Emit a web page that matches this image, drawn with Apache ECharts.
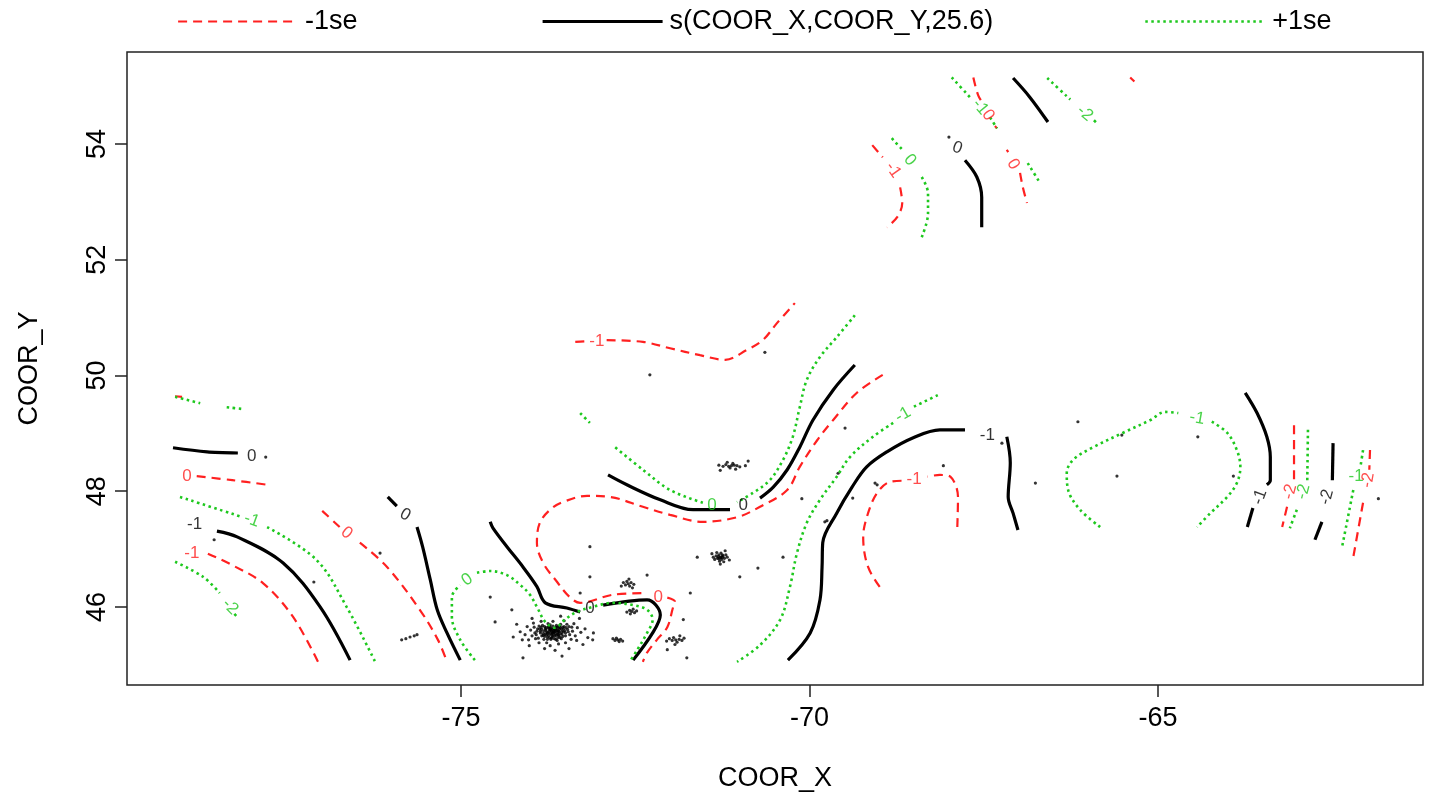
<!DOCTYPE html>
<html>
<head>
<meta charset="utf-8">
<script src="https://cdn.jsdelivr.net/npm/echarts@6/dist/echarts.min.js"></script>
<style>
  html, body { margin: 0; padding: 0; background: #ffffff; }
  #chart { width: 1431px; height: 804px; }
</style>
</head>
<body>
<div id="chart"></div>
<script>
// Axis ranges and tick labels (longitude / latitude)
const xRange = [-79.79, -61.20];
const yRange = [44.65, 55.59];
const xTicks = [-75, -70, -65];
const yTicks = [46, 48, 50, 52, 54];

// Legend entries
const seLowName = '-1se';
const fitName = 's(COOR_X,COOR_Y,25.6)';
const seHighName = '+1se';

// Contour paths of the fit minus one standard error (each an open polyline)
const seLowPaths = [
  [[-79.10, 49.64], [-79.00, 49.63]],
  [[-78.79, 48.26], [-78.28, 48.19], [-77.77, 48.11]],
  [[-78.63, 46.92], [-78.31, 46.74], [-77.84, 46.41], [-77.41, 45.83], [-77.05, 45.05]],
  [[-76.99, 47.66], [-76.74, 47.38]],
  [[-76.45, 47.11], [-76.06, 46.69], [-75.59, 45.95], [-75.33, 45.43], [-75.20, 45.05]],
  [[-68.95, 50.01], [-69.32, 49.70], [-69.66, 49.23], [-69.89, 48.88], [-70.14, 48.42], [-70.32, 48.02],
   [-70.71, 47.73], [-71.04, 47.55], [-71.53, 47.47], [-72.00, 47.59], [-72.39, 47.73], [-72.86, 47.90],
   [-73.19, 47.92], [-73.54, 47.81], [-73.72, 47.68], [-73.87, 47.45], [-73.91, 47.11], [-73.82, 46.76],
   [-73.62, 46.43], [-73.44, 46.17], [-73.29, 46.07], [-72.82, 46.21], [-72.33, 46.24]],
  [[-72.04, 46.16], [-71.93, 46.09], [-71.96, 45.98], [-72.04, 45.65], [-72.19, 45.43], [-72.33, 45.21], [-72.39, 45.05]],
  [[-73.36, 50.58], [-73.22, 50.59]],
  [[-72.91, 50.61], [-72.39, 50.58], [-72.00, 50.47], [-71.57, 50.35], [-71.21, 50.27], [-70.90, 50.44],
   [-70.67, 50.61], [-70.47, 50.90], [-70.21, 51.25]],
  [[-67.88, 47.38], [-67.87, 47.90], [-67.98, 48.25], [-68.13, 48.28], [-68.31, 48.25]],
  [[-68.68, 48.18], [-68.85, 48.16], [-69.03, 47.97], [-69.16, 47.62], [-69.23, 47.21], [-69.16, 46.69], [-68.96, 46.29]],
  [[-63.05, 49.14], [-63.05, 48.19]],
  [[-63.15, 47.73], [-63.22, 47.38]],
  [[-61.96, 48.71], [-61.97, 48.37]],
  [[-62.06, 47.80], [-62.20, 46.86]],
  [[-67.65, 55.15], [-67.58, 54.84], [-67.51, 54.70]],
  [[-67.34, 54.31], [-67.31, 54.27]],
  [[-65.40, 55.15], [-65.34, 55.08]],
  [[-69.10, 53.98], [-68.95, 53.77]],
  [[-68.70, 53.25], [-68.67, 52.98], [-68.74, 52.74], [-68.89, 52.56]],
  [[-67.17, 53.90], [-67.15, 53.86]],
  [[-66.98, 53.50], [-66.94, 53.25], [-66.88, 52.98]]
];

// Contour paths of the smooth fit itself
const fitPaths = [
  [[-79.13, 48.75], [-78.64, 48.68], [-78.20, 48.66]],
  [[-78.50, 47.31], [-78.21, 47.21], [-77.55, 46.76], [-77.02, 46.00], [-76.59, 45.08]],
  [[-76.05, 47.90], [-75.92, 47.74]],
  [[-75.63, 47.38], [-75.55, 47.04], [-75.44, 46.47], [-75.34, 45.95], [-75.20, 45.55], [-75.01, 45.08]],
  [[-74.58, 47.47], [-74.54, 47.36], [-74.34, 47.04], [-74.11, 46.69], [-73.91, 46.35], [-73.79, 46.07],
   [-73.48, 45.98], [-73.29, 45.91]],
  [[-72.96, 46.03], [-72.33, 46.12], [-72.14, 45.86], [-72.25, 45.55], [-72.53, 45.08]],
  [[-69.35, 50.18], [-69.66, 49.75], [-69.95, 49.23], [-70.14, 48.76], [-70.32, 48.37], [-70.52, 48.07], [-70.71, 47.88]],
  [[-71.14, 47.68], [-71.67, 47.68], [-72.14, 47.85], [-72.62, 48.11], [-72.89, 48.28]],
  [[-67.77, 49.06], [-68.13, 49.06], [-68.52, 48.92], [-68.89, 48.68], [-69.18, 48.42], [-69.39, 48.07],
   [-69.61, 47.62], [-69.81, 47.11], [-69.82, 46.69], [-69.85, 46.12], [-69.99, 45.55], [-70.31, 45.08]],
  [[-67.17, 48.94], [-67.12, 48.49], [-67.15, 47.90], [-67.08, 47.62], [-67.01, 47.33]],
  [[-63.75, 49.70], [-63.58, 49.35], [-63.44, 48.94], [-63.39, 48.59], [-63.39, 48.19], [-63.44, 48.11]],
  [[-63.64, 47.71], [-63.72, 47.38]],
  [[-62.49, 48.83], [-62.50, 48.19]],
  [[-62.65, 47.47], [-62.75, 47.16]],
  [[-67.08, 55.14], [-66.84, 54.81], [-66.58, 54.38]],
  [[-67.77, 53.72], [-67.60, 53.43], [-67.53, 53.08], [-67.53, 52.56]]
];

// Contour paths of the fit plus one standard error
const seHighPaths = [
  [[-79.10, 49.63], [-78.74, 49.52]],
  [[-78.36, 49.45], [-78.13, 49.42]],
  [[-79.03, 47.90], [-78.13, 47.55]],
  [[-77.78, 47.38], [-77.07, 46.81], [-76.64, 46.00], [-76.23, 45.05]],
  [[-79.10, 46.78], [-78.70, 46.52], [-78.46, 46.24]],
  [[-78.25, 45.88], [-78.21, 45.83]],
  [[-74.80, 45.08], [-75.01, 45.43], [-75.13, 45.83], [-75.13, 46.17], [-75.01, 46.38]],
  [[-74.77, 46.59], [-74.58, 46.62], [-74.34, 46.55], [-74.15, 46.38], [-74.01, 46.21], [-73.91, 46.00],
   [-73.79, 45.74], [-73.65, 45.64], [-73.51, 45.78], [-73.36, 45.90], [-73.11, 46.00], [-72.82, 46.07],
   [-72.53, 46.03], [-72.33, 45.95], [-72.25, 45.78], [-72.33, 45.55], [-72.47, 45.26], [-72.58, 45.05]],
  [[-69.35, 51.04], [-69.61, 50.66], [-69.85, 50.32], [-70.04, 49.92], [-70.14, 49.45], [-70.24, 48.94],
   [-70.38, 48.54], [-70.57, 48.19], [-70.81, 47.97], [-71.04, 47.81]],
  [[-71.53, 47.80], [-72.00, 48.02], [-72.39, 48.37], [-72.79, 48.76]],
  [[-73.29, 49.35], [-73.15, 49.18]],
  [[-68.16, 49.66], [-68.52, 49.45]],
  [[-68.80, 49.18], [-69.09, 48.94], [-69.42, 48.59], [-69.61, 48.25], [-69.85, 47.85], [-70.04, 47.45],
   [-70.18, 46.93], [-70.28, 46.35], [-70.42, 45.78], [-70.71, 45.34], [-71.04, 45.05]],
  [[-65.83, 47.38], [-66.12, 47.68], [-66.29, 48.02], [-66.31, 48.31], [-66.22, 48.54], [-65.93, 48.76],
   [-65.50, 49.01], [-65.11, 49.23], [-64.90, 49.37], [-64.71, 49.35]],
  [[-64.23, 49.20], [-64.01, 49.01], [-63.87, 48.71], [-63.82, 48.42], [-63.87, 48.14], [-64.01, 47.90],
   [-64.25, 47.62], [-64.44, 47.38]],
  [[-62.85, 49.06], [-62.86, 48.19]],
  [[-63.01, 47.68], [-63.11, 47.36]],
  [[-62.06, 48.71], [-62.10, 48.40]],
  [[-62.20, 48.02], [-62.36, 47.04]],
  [[-67.96, 55.15], [-67.70, 54.81]],
  [[-67.41, 54.46], [-67.31, 54.27]],
  [[-66.59, 55.14], [-66.26, 54.77]],
  [[-65.92, 54.41], [-65.88, 54.36]],
  [[-68.82, 54.10], [-68.66, 53.89]],
  [[-68.39, 53.43], [-68.30, 53.15], [-68.30, 52.80], [-68.39, 52.39]],
  [[-66.87, 53.67], [-66.69, 53.32]]
];

// Contour level labels: [x, y, level]
const seLowLabels = [
  [-78.93, 48.25, '0'], [-78.86, 46.93, '-1'], [-76.64, 47.28, '0'], [-72.17, 46.17, '0'],
  [-73.05, 50.59, '-1'], [-68.50, 48.21, '-1'], [-63.11, 47.99, '-2'], [-61.99, 48.19, '-2'],
  [-67.44, 54.50, '0'], [-68.80, 53.55, '-1'], [-67.08, 53.65, '0']
];
const fitLabels = [
  [-78.00, 48.61, '0'], [-78.82, 47.42, '-1'], [-75.80, 47.59, '0'], [-73.15, 45.98, '0'],
  [-70.95, 47.76, '0'], [-67.45, 48.97, '-1'], [-63.54, 47.90, '-1'], [-62.58, 47.90, '-2'],
  [-67.88, 53.93, '0']
];
const seHighLabels = [
  [-78.00, 47.50, '-1'], [-78.31, 46.00, '-2'], [-74.91, 46.47, '0'], [-71.40, 47.76, '0'],
  [-68.66, 49.32, '-1'], [-64.44, 49.26, '-1'], [-62.92, 47.99, '-2'], [-62.16, 48.25, '-1'],
  [-67.55, 54.64, '-1'], [-66.05, 54.53, '-2'], [-68.56, 53.72, '0']
];

// Observation locations
const obsPoints = [
  // dense group near -73.7, 45.6
  [-73.68, 45.57], [-73.62, 45.60], [-73.74, 45.55], [-73.70, 45.63], [-73.60, 45.52], [-73.78, 45.60],
  [-73.65, 45.50], [-73.55, 45.58], [-73.82, 45.54], [-73.72, 45.66], [-73.58, 45.64], [-73.86, 45.58],
  [-73.50, 45.55], [-73.66, 45.45], [-73.76, 45.48], [-73.63, 45.68], [-73.80, 45.66], [-73.54, 45.49],
  [-73.90, 45.62], [-73.47, 45.61], [-73.70, 45.52], [-73.61, 45.56], [-73.84, 45.50], [-73.57, 45.70],
  [-73.75, 45.71], [-73.67, 45.59], [-73.73, 45.58], [-73.59, 45.61], [-73.64, 45.54], [-73.69, 45.48],
  [-73.79, 45.53], [-73.52, 45.66], [-73.88, 45.67], [-73.44, 45.52], [-73.94, 45.55], [-73.71, 45.44],
  [-73.62, 45.42], [-73.56, 45.45], [-73.81, 45.44], [-73.48, 45.70], [-73.66, 45.62], [-73.77, 45.57],
  [-73.53, 45.62], [-73.87, 45.62], [-73.64, 45.65], [-73.71, 45.60], [-73.59, 45.50], [-73.75, 45.64],
  [-73.69, 45.55], [-73.72, 45.62], [-73.66, 45.57], [-73.63, 45.51], [-73.74, 45.51], [-73.60, 45.58],
  [-73.78, 45.64], [-73.56, 45.62], [-73.81, 45.58], [-73.68, 45.67], [-73.62, 45.64], [-73.73, 45.47],
  [-73.57, 45.54], [-73.84, 45.61], [-73.51, 45.59], [-73.77, 45.52], [-73.65, 45.61], [-73.70, 45.58],
  [-73.61, 45.47], [-73.86, 45.55], [-73.67, 45.53], [-73.54, 45.65], [-73.80, 45.49], [-73.58, 45.67],
  [-73.91, 45.58], [-73.46, 45.57], [-73.72, 45.69], [-73.64, 45.44], [-73.83, 45.68], [-73.49, 45.64],
  [-73.67, 45.56], [-73.71, 45.54], [-73.65, 45.58], [-73.73, 45.61], [-73.61, 45.53], [-73.76, 45.55],
  [-73.59, 45.57], [-73.69, 45.61], [-73.63, 45.59], [-73.79, 45.62], [-73.55, 45.53], [-73.74, 45.66],
  [-73.68, 45.50], [-73.60, 45.66], [-73.82, 45.51], [-73.53, 45.57], [-73.70, 45.46], [-73.85, 45.65],
  [-73.58, 45.47], [-73.92, 45.52], [-73.45, 45.66], [-73.76, 45.44], [-73.50, 45.50], [-73.89, 45.46],
  [-74.00, 45.60], [-73.98, 45.50], [-74.05, 45.66], [-73.40, 45.58], [-73.36, 45.50], [-73.33, 45.64],
  [-73.93, 45.45], [-73.42, 45.44], [-73.77, 45.38], [-73.60, 45.36], [-73.68, 45.75], [-73.85, 45.75],
  [-73.52, 45.76], [-74.08, 45.52], [-73.28, 45.56], [-73.96, 45.72], [-73.38, 45.71], [-73.72, 45.33],
  [-73.50, 45.38], [-73.88, 45.38], [-74.03, 45.43], [-73.34, 45.42], [-73.95, 45.65], [-73.41, 45.65],
  [-74.15, 45.57], [-74.12, 45.43], [-74.20, 45.70], [-73.22, 45.62], [-73.18, 45.47], [-73.25, 45.35],
  [-73.65, 45.25], [-73.80, 45.28], [-73.45, 45.28], [-74.02, 45.33], [-73.98, 45.80], [-73.57, 45.84],
  [-73.30, 45.80], [-74.25, 45.48], [-73.10, 45.55],
  // group near -71.3, 46.85
  [-71.28, 46.86], [-71.24, 46.88], [-71.32, 46.84], [-71.26, 46.82], [-71.30, 46.90], [-71.22, 46.84],
  [-71.34, 46.88], [-71.27, 46.93], [-71.29, 46.79], [-71.20, 46.90], [-71.36, 46.82], [-71.25, 46.86],
  [-71.31, 46.87], [-71.18, 46.86], [-71.38, 46.86], [-71.23, 46.78], [-71.33, 46.94], [-71.28, 46.74],
  [-71.15, 46.81], [-71.40, 46.92], [-71.21, 46.97], [-71.27, 46.85], [-71.30, 46.83], [-71.25, 46.90],
  // group near -71.1, 48.44
  [-71.12, 48.44], [-71.08, 48.45], [-71.16, 48.43], [-71.04, 48.44], [-71.20, 48.46], [-71.10, 48.48],
  [-71.14, 48.40], [-71.00, 48.42], [-71.24, 48.43], [-71.06, 48.38], [-71.18, 48.50], [-70.92, 48.44],
  [-71.30, 48.45], [-70.88, 48.52], [-71.28, 48.36],
  // smaller groups
  [-72.60, 46.40], [-72.56, 46.42], [-72.64, 46.38], [-72.58, 46.36], [-72.62, 46.44], [-72.52, 46.39],
  [-72.67, 46.42], [-72.59, 46.48], [-72.54, 46.33], [-72.70, 46.36],
  [-71.92, 45.43], [-71.87, 45.44], [-71.97, 45.42], [-71.83, 45.42], [-72.01, 45.45], [-71.90, 45.39],
  [-71.95, 45.47], [-71.80, 45.46], [-72.05, 45.41], [-71.93, 45.35], [-71.86, 45.50],
  [-72.75, 45.43], [-72.71, 45.44], [-72.79, 45.42], [-72.73, 45.40], [-72.77, 45.46], [-72.68, 45.41],
  [-72.82, 45.45],
  [-72.55, 45.92], [-72.51, 45.90], [-72.58, 45.94], [-72.53, 45.96], [-72.57, 45.88], [-72.48, 45.93],
  [-72.62, 45.91],
  [-75.85, 45.43], [-75.79, 45.45], [-75.73, 45.48], [-75.67, 45.50], [-75.63, 45.52],
  // scattered sites
  [-77.80, 48.59], [-78.54, 47.16], [-77.11, 46.43], [-76.16, 46.93], [-73.15, 47.04], [-73.15, 46.52],
  [-71.61, 46.86], [-74.58, 46.17], [-73.29, 46.24], [-74.51, 45.74], [-71.71, 46.24], [-71.81, 45.78],
  [-74.11, 45.12], [-73.55, 45.15], [-73.11, 45.43], [-71.76, 45.12], [-70.64, 50.40], [-72.29, 50.01],
  [-69.49, 49.09], [-69.59, 48.31], [-70.11, 47.87], [-69.38, 47.88], [-69.06, 48.14], [-69.75, 47.49],
  [-69.78, 47.47], [-69.03, 48.11], [-68.08, 48.44], [-67.24, 48.83], [-66.76, 48.14], [-70.38, 46.86],
  [-66.15, 49.20], [-65.52, 48.97], [-64.43, 48.94], [-65.59, 48.26], [-63.92, 48.26], [-61.84, 47.87],
  [-68.00, 54.12], [-72.33, 46.55], [-74.27, 45.95], [-72.04, 45.26], [-70.74, 46.67], [-71.00, 46.52]
];

// Label rotation (degrees) for each contour label, in the order of the label lists
const seLowTilt = [0, 0, -40, 0, 0, 0, 75, 80, -55, -55, -60];
const fitTilt = [0, 0, -30, 0, 0, 0, 70, 75, -20];
const seHighTilt = [-20, -45, 35, 0, 30, -10, 75, 0, -50, -40, -50];

const RED = '#ff2020';
const GREEN = '#1ec81e';
const BLACK = '#000000';

const seLowStyle = { color: RED, width: 2.2, type: [9, 6] };
const fitStyle = { color: BLACK, width: 3.2, type: 'solid' };
const seHighStyle = { color: GREEN, width: 2.6, type: [2.5, 3.5] };

function contourSeries(name, paths, lineStyle) {
  return paths.map(p => ({
    type: 'line', name: name, data: p, symbol: 'none', showSymbol: false,
    smooth: 0.35,
    lineStyle: lineStyle, itemStyle: { color: lineStyle.color },
    silent: true, animation: false, z: 3, clip: true
  }));
}

function labelSeries(id, labels, tilt, color) {
  return {
    type: 'scatter', id: id, silent: true, animation: false, z: 4,
    symbolSize: 1, itemStyle: { color: 'rgba(0,0,0,0)' },
    data: labels.map((l, i) => ({
      value: [l[0], l[1], l[2]],
      label: { rotate: tilt[i] || 0 }
    })),
    label: {
      show: true, position: 'inside', color: color,
      fontFamily: 'Liberation Sans, Arial, sans-serif', fontSize: 17,
      formatter: p => p.value[2]
    }
  };
}

const chart = echarts.init(document.getElementById('chart'), null, { renderer: 'canvas' });

const font = 'Liberation Sans, Arial, Helvetica, sans-serif';

function legendAt(left, name, style) {
  return {
    left: left, top: 3, itemWidth: 120, itemHeight: 30, itemGap: 0,
    data: [name], selectedMode: false,
    itemStyle: { opacity: 0, borderWidth: 0 },
    lineStyle: { color: style.color, width: style.width, type: style.type },
    textStyle: { fontFamily: font, fontSize: 27, color: '#000', padding: [0, 0, 0, 2] }
  };
}

const option = {
  backgroundColor: '#ffffff',
  animation: false,
  legend: [
    legendAt(172, seLowName, seLowStyle),
    legendAt(536, fitName, fitStyle),
    legendAt(1139, seHighName, seHighStyle)
  ],
  grid: {
    left: 127, right: 8, top: 52, bottom: 119,
    show: true, borderColor: '#222', borderWidth: 1.5, backgroundColor: 'transparent'
  },
  xAxis: {
    type: 'value', min: xRange[0], max: xRange[1],
    name: 'COOR_X', nameLocation: 'middle', nameGap: 80,
    nameTextStyle: { fontFamily: font, fontSize: 27, color: '#000' },
    axisLine: { show: false },
    axisTick: { show: true, length: 12, customValues: xTicks, lineStyle: { color: '#222', width: 1.5 } },
    axisLabel: { customValues: xTicks, fontFamily: font, fontSize: 27, color: '#000', margin: 20 },
    splitLine: { show: false }
  },
  yAxis: {
    type: 'value', min: yRange[0], max: yRange[1],
    name: 'COOR_Y', nameLocation: 'middle', nameGap: 84, nameRotate: 90,
    nameTextStyle: { fontFamily: font, fontSize: 27, color: '#000' },
    axisLine: { show: false },
    axisTick: { show: true, length: 12, customValues: yTicks, lineStyle: { color: '#222', width: 1.5 } },
    axisLabel: { customValues: yTicks, rotate: 90, fontFamily: font, fontSize: 27, color: '#000', margin: 16 },
    splitLine: { show: false }
  },
  series: [
    {
      type: 'scatter', id: 'sites', data: obsPoints, symbol: 'circle', symbolSize: 3.2,
      itemStyle: { color: '#000' }, silent: true, animation: false, z: 2
    },
    ...contourSeries(seLowName, seLowPaths, seLowStyle),
    ...contourSeries(fitName, fitPaths, fitStyle),
    ...contourSeries(seHighName, seHighPaths, seHighStyle),
    labelSeries('lowLabels', seLowLabels, seLowTilt, RED),
    labelSeries('fitLabels', fitLabels, fitTilt, BLACK),
    labelSeries('highLabels', seHighLabels, seHighTilt, GREEN)
  ]
};

chart.setOption(option);
</script>
</body>
</html>
